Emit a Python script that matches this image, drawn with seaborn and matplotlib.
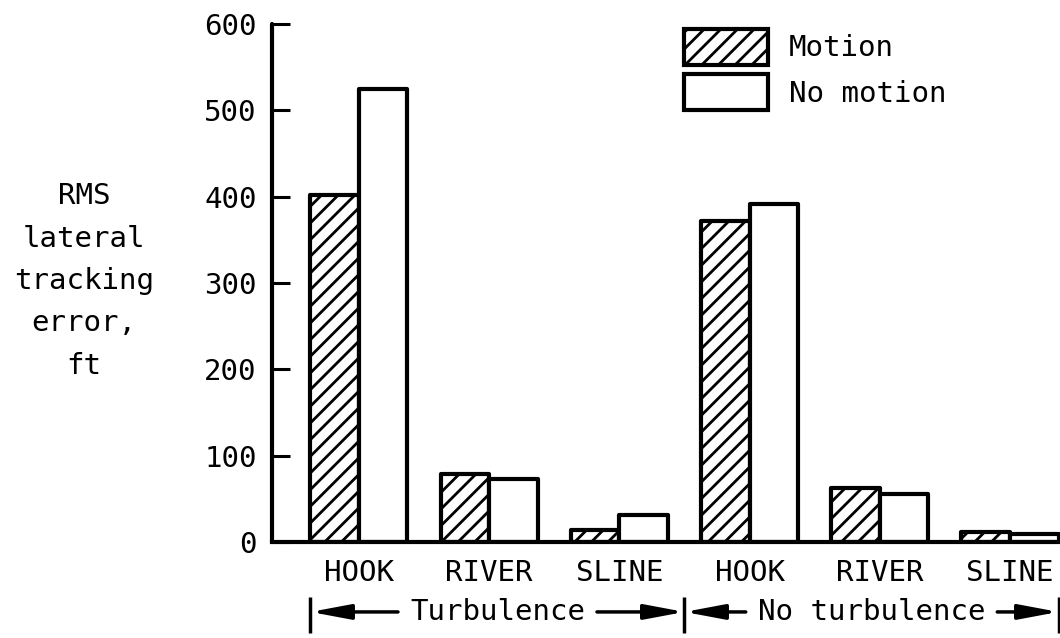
import matplotlib
matplotlib.use('Agg')
import matplotlib.pyplot as plt
import matplotlib.transforms as mtransforms
import seaborn as sns
import pandas as pd

# values
courses = ['HOOK', 'RIVER', 'SLINE']
conditions = ['Turbulence', 'No turbulence']
motion = [402, 79, 14, 372, 63, 12]
no_motion = [525, 73, 31, 392, 56, 9]
series_names = ['Motion', 'No motion']
y_ticks = [0, 100, 200, 300, 400, 500, 600]

rows = []
for i in range(len(motion)):
    rows.append({'pos': i, 'series': series_names[0], 'err': motion[i]})
    rows.append({'pos': i, 'series': series_names[1], 'err': no_motion[i]})
df = pd.DataFrame(rows)

sns.set_style('ticks')
plt.rcParams['font.family'] = ['DejaVu Sans Mono', 'DejaVu Sans']
plt.rcParams['font.size'] = 21
plt.rcParams['hatch.linewidth'] = 2.0
for key in ['text.color', 'axes.labelcolor', 'xtick.color', 'ytick.color',
            'axes.edgecolor']:
    plt.rcParams[key] = 'black'

fig = plt.figure(figsize=(10.6, 6.38), dpi=100)
ax = fig.add_axes([272 / 1060, 96 / 638, 788 / 1060, 518 / 638])

bar_w = 0.745
sns.barplot(data=df, x='pos', y='err', hue='series', hue_order=series_names,
            palette=['white', 'white'], edgecolor='black', linewidth=3,
            width=bar_w, gap=0, legend=False, ax=ax, saturation=1)

for p in ax.containers[0]:
    p.set_hatch('//')
for c in ax.containers:
    for p in c:
        p.set_joinstyle('round')

ax.set_ylim(0, 600)
ax.set_xlim(-0.668, 5.384)
ax.set_yticks(y_ticks)
ax.set_xticks(range(len(motion)), labels=courses * len(conditions))
ax.set_xlabel('')
ax.set_ylabel('')
ax.tick_params(axis='y', direction='in', length=13, width=2.2, pad=11, labelsize=21)
ax.tick_params(axis='x', length=0, pad=12, labelsize=21)
for s in ['top', 'right']:
    ax.spines[s].set_visible(False)
ax.spines['left'].set_linewidth(3)
ax.spines['bottom'].set_linewidth(3)
ax.spines['left'].set_capstyle('round')

fig.text(84 / 1060, 1 - 281 / 638, 'RMS\nlateral\ntracking\nerror,\nft',
         ha='center', va='center', multialignment='center', fontsize=21,
         linespacing=1.65)

ax.legend(ax.containers, series_names, loc='upper left',
          bbox_to_anchor=(669 / 1060, 1 - 14 / 638), bbox_transform=fig.transFigure,
          frameon=False, borderpad=0, handlelength=2.9, handleheight=1.55,
          handletextpad=0.7, labelspacing=0.3, fontsize=21)

# brackets below the course names
blend = mtransforms.blended_transform_factory(ax.transData, ax.transAxes)
edges = [-bar_w / 2, 2.5, len(motion) - 1 + bar_w / 2]
yb = -0.135
for e in edges:
    ax.plot([e, e], [-0.106, -0.176], color='black', lw=2.5, transform=blend,
            clip_on=False, solid_capstyle='butt')

fig.canvas.draw()
inv = ax.transData.inverted()
gap = 12
for k, name in enumerate(conditions):
    lo, hi = edges[k], edges[k + 1]
    t = ax.text((lo + hi) / 2, yb, name, transform=blend, ha='center',
                va='center', fontsize=21)
    bb = t.get_window_extent(renderer=fig.canvas.get_renderer())
    x_left = inv.transform((bb.x0 - gap, 0))[0]
    x_right = inv.transform((bb.x1 + gap, 0))[0]
    arrow = dict(arrowstyle='-|>,head_length=1.6,head_width=0.3',
                 mutation_scale=15, lw=2.5, color='black', shrinkA=0, shrinkB=0)
    ax.annotate('', xy=(lo, yb), xytext=(x_left, yb), xycoords=blend,
                textcoords=blend, arrowprops=arrow, annotation_clip=False)
    ax.annotate('', xy=(hi, yb), xytext=(x_right, yb), xycoords=blend,
                textcoords=blend, arrowprops=arrow, annotation_clip=False)

fig.savefig('out.png', dpi=100)
plt.close(fig)
